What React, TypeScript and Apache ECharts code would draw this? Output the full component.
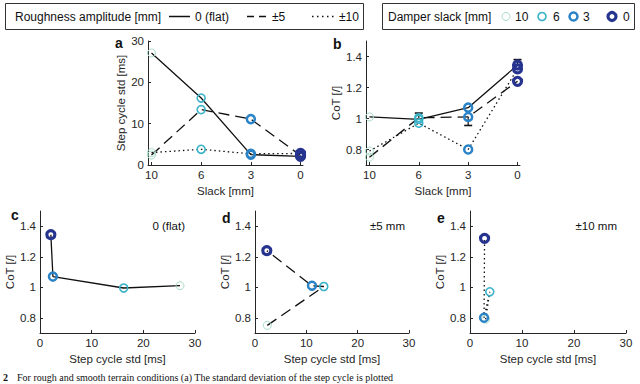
import React, { useEffect, useRef } from "react";
import * as echarts from "echarts";

// ---- data ----
const slackLabels = ["10", "6", "3", "0"];
const slackColors = ["#a9dcc7", "#3bb3c9", "#2a83c6", "#26348f"];
const slackBorder = [1, 1.6, 2.5, 3.2];

const roughNames = ["0 (flat)", "±5", "±10"];
const panelNotes = ["0 (flat)", "±5 mm", "±10 mm"];

const stdFlat = [27.1, 16.2, 2.5, 2.1];
const stdPm5 = [2.4, 13.4, 11.1, 2.3];
const stdPm10 = [3.0, 3.8, 2.7, 2.8];

const cotFlat = [1.01, 0.995, 1.07, 1.345];
const cotPm5 = [0.75, 1.005, 1.01, 1.24];
const cotPm10 = [0.79, 0.97, 0.8, 1.32];

// error bars in panel b: [slack index, from, to]
const errBars = [
  [1, 1.0, 1.035],
  [2, 1.01, 0.955],
  [3, 1.35, 1.38],
];

const cotTicks = [0.8, 1, 1.2, 1.4];

const FONT = '"Liberation Sans", Arial, Helvetica, sans-serif';
const INK = "#262626";
const dashes: any[] = ["solid", [11, 6], [1.5, 3]];

const stds = [stdFlat, stdPm5, stdPm10];
const cots = [cotFlat, cotPm5, cotPm10];

function axisBase(extra: any) {
  return {
    axisLine: { show: true, onZero: false, lineStyle: { color: INK, width: 1 } },
    axisTick: { show: true, inside: true, length: 3, lineStyle: { color: INK, width: 1 } },
    axisLabel: { color: INK, fontSize: 11.5, fontFamily: FONT, margin: 4 },
    splitLine: { show: false },
    nameTextStyle: { color: INK, fontSize: 11.5, fontFamily: FONT },
    ...extra,
  };
}

function slackAxis(gridIndex: number) {
  const b = axisBase({});
  return {
    ...b,
    type: "value",
    gridIndex,
    min: -0.07,
    max: 3.05,
    name: "Slack [mm]",
    nameLocation: "middle",
    nameGap: 20,
    axisTick: { ...b.axisTick, customValues: [0, 1, 2, 3] },
    axisLabel: {
      ...b.axisLabel,
      customValues: [0, 1, 2, 3],
      formatter: (v: number) => slackLabels[Math.round(v)],
    },
  };
}

function stdXAxis(gridIndex: number) {
  return axisBase({
    type: "value",
    gridIndex,
    min: 0,
    max: 30,
    interval: 10,
    name: "Step cycle std [ms]",
    nameLocation: "middle",
    nameGap: 20,
  });
}

function cotYAxis(gridIndex: number, gap: number) {
  const b = axisBase({});
  return {
    ...b,
    type: "value",
    gridIndex,
    min: 0.7,
    max: 1.5,
    name: "CoT [/]",
    nameLocation: "middle",
    nameRotate: 90,
    nameGap: gap,
    axisTick: { ...b.axisTick, customValues: cotTicks },
    axisLabel: {
      ...b.axisLabel,
      customValues: cotTicks,
      formatter: (v: number) => String(Math.round(v * 10) / 10),
    },
  };
}

function pointItems(xs: number[], ys: number[]) {
  return xs.map((x, i) => ({
    value: [x, ys[i]],
    itemStyle: { borderColor: slackColors[i], borderWidth: slackBorder[i] },
  }));
}

function lineSeries(k: number, xi: number, yi: number, data: any[]) {
  return {
    type: "line",
    xAxisIndex: xi,
    yAxisIndex: yi,
    data,
    symbol: "circle",
    symbolSize: 8,
    itemStyle: { color: "rgba(255,255,255,0)" },
    lineStyle: { color: "#111", width: 1.3, type: dashes[k] },
    emphasis: { disabled: true },
    silent: true,
    z: 3,
  };
}

function buildOption() {
  const grids = [
    { left: 148, top: 41, width: 155, height: 124 },
    { left: 366, top: 41, width: 154, height: 124 },
    { left: 40, top: 211, width: 155, height: 122 },
    { left: 255, top: 211, width: 154, height: 122 },
    { left: 470, top: 211, width: 156, height: 122 },
  ];

  const xAxis = [slackAxis(0), slackAxis(1), stdXAxis(2), stdXAxis(3), stdXAxis(4)];
  const yAxis = [
    axisBase({
      type: "value",
      gridIndex: 0,
      min: 0,
      max: 30,
      interval: 10,
      name: "Step cycle std [ms]",
      nameLocation: "middle",
      nameRotate: 90,
      nameGap: 20,
    }),
    cotYAxis(1, 24),
    cotYAxis(2, 22),
    cotYAxis(3, 22),
    cotYAxis(4, 22),
  ];

  const series: any[] = [];
  series.push({
    type: "custom",
    xAxisIndex: 1,
    yAxisIndex: 1,
    data: errBars,
    silent: true,
    z: 2,
    renderItem: (params: any, api: any) => {
      const x = api.value(0);
      const p0 = api.coord([x, api.value(1)]);
      const p1 = api.coord([x, api.value(2)]);
      return {
        type: "group",
        children: [
          { type: "line", shape: { x1: p0[0], y1: p0[1], x2: p1[0], y2: p1[1] }, style: { stroke: "#111", lineWidth: 1.2 } },
          { type: "line", shape: { x1: p1[0] - 4, y1: p1[1], x2: p1[0] + 4, y2: p1[1] }, style: { stroke: "#111", lineWidth: 1.6 } },
        ],
      };
    },
  });

  const idx = slackLabels.map((_, i) => i);
  for (let k = 0; k < 3; k++) {
    series.push(lineSeries(k, 0, 0, pointItems(idx, stds[k])));
    series.push(lineSeries(k, 1, 1, pointItems(idx, cots[k])));
    series.push(lineSeries(k, 2 + k, 2 + k, pointItems(stds[k], cots[k])));
  }

  const txt = (text: string, x: number, y: number, font: string, align = "left") => ({
    type: "text",
    x,
    y,
    silent: true,
    style: { text, fill: "#111", font, align, verticalAlign: "middle" },
  });
  const legFont = `12px ${FONT}`;
  const letterFont = `bold 14px ${FONT}`;
  const noteFont = `11.5px ${FONT}`;
  const ly = 16.5;

  const graphic: any[] = [
    // legend box: roughness
    { type: "rect", shape: { x: 5.5, y: 3.5, width: 358, height: 26 }, style: { fill: "#fff", stroke: "#333", lineWidth: 1 } },
    txt("Roughness amplitude [mm]", 15, ly, legFont),
    { type: "line", shape: { x1: 169, y1: ly, x2: 190, y2: ly }, style: { stroke: "#111", lineWidth: 1.5 } },
    txt(roughNames[0], 195, ly, legFont),
    { type: "line", shape: { x1: 247, y1: ly, x2: 266, y2: ly }, style: { stroke: "#111", lineWidth: 1.5, lineDash: [7, 5] } },
    txt(roughNames[1], 272, ly, legFont),
    { type: "line", shape: { x1: 312, y1: ly, x2: 334, y2: ly }, style: { stroke: "#111", lineWidth: 1.5, lineDash: [1.5, 3.5] } },
    txt(roughNames[2], 339, ly, legFont),
    // legend box: slack
    { type: "rect", shape: { x: 382.5, y: 3.5, width: 252, height: 26 }, style: { fill: "#fff", stroke: "#333", lineWidth: 1 } },
    txt("Damper slack [mm]", 388, ly, legFont),
  ];
  const legCx = [506, 542, 573.5, 612];
  const legTx = [515, 553, 583, 623];
  slackLabels.forEach((s, i) => {
    graphic.push({
      type: "circle",
      shape: { cx: legCx[i], cy: ly, r: 4 },
      style: { fill: "none", stroke: slackColors[i], lineWidth: slackBorder[i] },
    });
    graphic.push(txt(s, legTx[i], ly, legFont));
  });
  // panel letters
  graphic.push(txt("a", 115, 43, letterFont));
  graphic.push(txt("b", 333, 44, letterFont));
  graphic.push(txt("c", 11, 215, letterFont));
  graphic.push(txt("d", 222, 218, letterFont));
  graphic.push(txt("e", 437, 218, letterFont));
  // panel notes
  graphic.push(txt(panelNotes[0], 185, 226, noteFont, "right"));
  graphic.push(txt(panelNotes[1], 405, 226, noteFont, "right"));
  graphic.push(txt(panelNotes[2], 617, 226, noteFont, "right"));
  // caption line at the bottom
  graphic.push({
    type: "text",
    x: 3,
    y: 372,
    silent: true,
    style: { text: "2", fill: "#111", font: `bold 10px "Liberation Serif", serif`, align: "left", verticalAlign: "top" },
  });
  graphic.push({
    type: "text",
    x: 17,
    y: 372,
    silent: true,
    style: {
      text: "For rough and smooth terrain conditions (a) The standard deviation of the step cycle is plotted",
      fill: "#111",
      font: `10px "Liberation Serif", serif`,
      align: "left",
      verticalAlign: "top",
    },
  });

  return {
    animation: false,
    backgroundColor: "#ffffff",
    grid: grids,
    xAxis,
    yAxis,
    series,
    graphic,
  };
}

export default function App() {
  const ref = useRef<HTMLDivElement>(null);
  useEffect(() => {
    if (!ref.current) return;
    const chart = echarts.init(ref.current, undefined, { renderer: "svg" });
    chart.setOption(buildOption() as any);
    return () => chart.dispose();
  }, []);
  return (
    <div
      ref={ref}
      style={{ position: "absolute", left: 0, top: 0, width: 640, height: 384, background: "#fff" }}
    />
  );
}
